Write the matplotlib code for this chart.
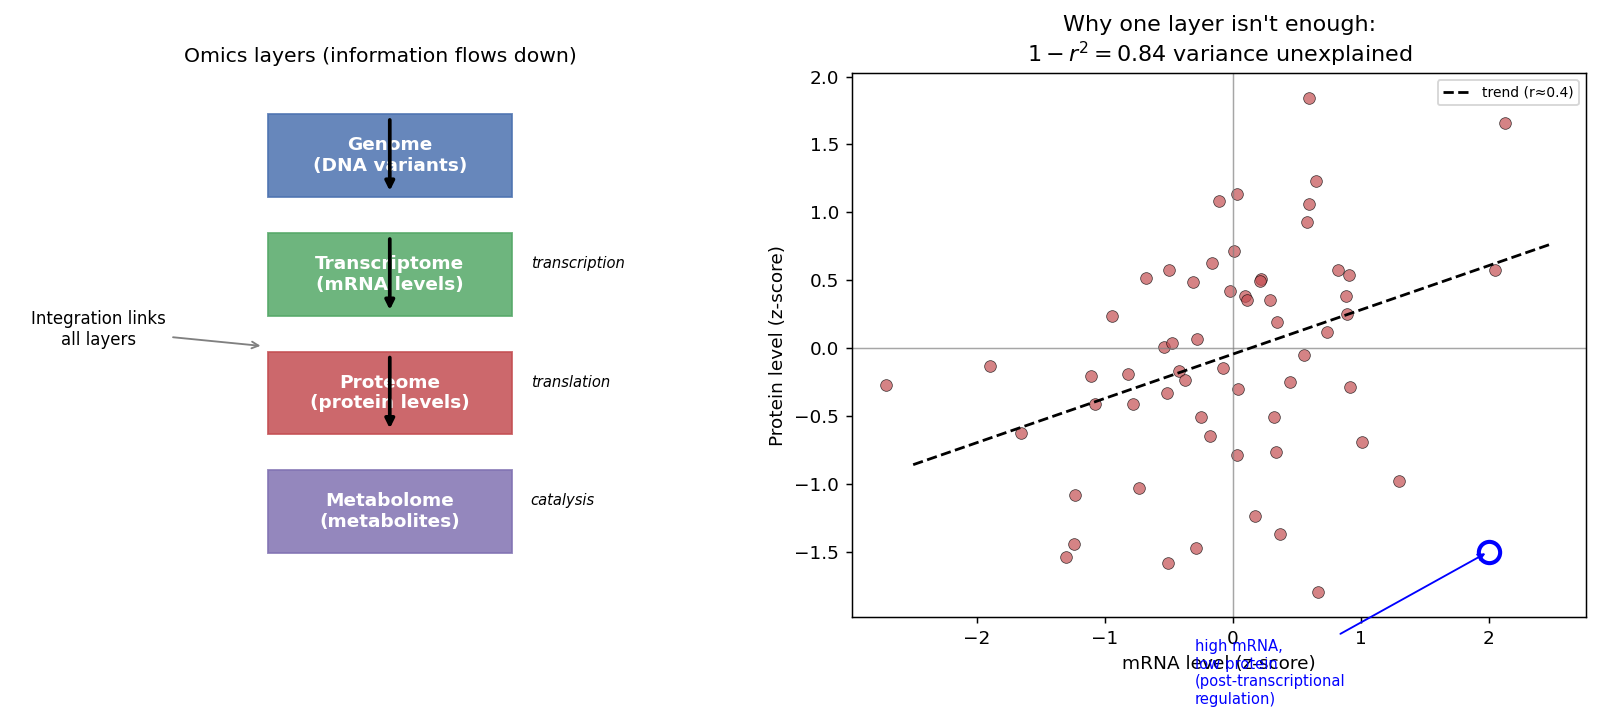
import matplotlib.pyplot as plt
from matplotlib.patches import Rectangle

# left panel: omics layers
layer_names = ["Genome\n(DNA variants)", "Transcriptome\n(mRNA levels)",
               "Proteome\n(protein levels)", "Metabolome\n(metabolites)"]
layer_colors = ["#4C72B0", "#55A868", "#C44E52", "#8172B2"]
layer_y = [8.49, 6.30, 4.12, 1.94]
step_labels = ["transcription", "translation", "catalysis"]

# right panel: mRNA vs protein z-scores
mrna = [-0.11, -0.164, -0.683, -0.503, -0.313, -0.947, 0.598, 2.126, 0.647, 0.034,
        0.598, 0.579, 0.011, 0.822, 0.908, 2.048, 0.217, 0.211, -0.021, 0.097,
        0.110, 0.292, 0.882, 0.347, 0.890, 0.733, -0.279, -0.542, -0.48, -1.896,
        -2.715, -1.111, -0.819, -0.423, -0.378, -0.08, -0.516, -1.077, -0.782, -0.25,
        -0.18, -1.656, -1.233, -0.733, -1.244, -1.307, -0.508, -0.292, 0.556, 0.446,
        0.042, 0.916, 0.318, 1.01, 0.034, 0.334, 1.299, 0.170, 0.365, 0.665]
protein = [1.08, 0.626, 0.514, 0.577, 0.487, 0.239, 1.842, 1.654, 1.227, 1.136,
           1.058, 0.930, 0.712, 0.577, 0.541, 0.577, 0.511, 0.492, 0.423, 0.386,
           0.352, 0.352, 0.381, 0.190, 0.251, 0.117, 0.068, 0.004, 0.04, -0.131,
           -0.273, -0.209, -0.192, -0.172, -0.239, -0.146, -0.332, -0.413, -0.413, -0.511,
           -0.651, -0.626, -1.085, -1.035, -1.447, -1.538, -1.587, -1.472, -0.052, -0.251,
           -0.300, -0.285, -0.506, -0.69, -0.788, -0.768, -0.979, -1.241, -1.369, -1.80]
trend_x = [-2.5, 2.5]
trend_y = [-0.86, 0.77]
outlier = (2.0, -1.5)

fig = plt.figure(figsize=(12, 5.3925), dpi=400 / 3)
ax1 = fig.add_axes([0.0, 0.1419, 0.4758, 0.7562])
ax2 = fig.add_axes([0.5327, 0.1419, 0.4586, 0.7562])

# --- layers diagram
ax1.set_xlim(0, 10)
ax1.set_ylim(0, 10)
ax1.axis("off")
box_x, box_w, box_h = 3.52, 3.2, 1.52
for i, (name, c, y) in enumerate(zip(layer_names, layer_colors, layer_y)):
    ax1.add_patch(Rectangle((box_x, y - box_h / 2), box_w, box_h,
                            facecolor=c, edgecolor=c, alpha=0.85, lw=1))
    ax1.text(box_x + box_w / 2, y, name, ha="center", va="center",
             color="white", fontsize=10, fontweight="bold")
    if i < len(layer_names) - 1:
        ax1.annotate("", xy=(box_x + box_w / 2, y - 0.72), xytext=(box_x + box_w / 2, y + 0.72),
                     arrowprops=dict(arrowstyle="-|>", color="black", lw=2, mutation_scale=10),
                     zorder=5)
    if i > 0:
        ax1.text(box_x + box_w + 0.25, y + 0.2, step_labels[i - 1], fontsize=8,
                 style="italic", va="center", ha="left")

ax1.annotate("Integration links\nall layers", xy=(3.47, 4.98), xytext=(1.29, 5.28),
             ha="center", va="center", fontsize=9,
             arrowprops=dict(arrowstyle="->", color="gray", lw=1))
ax1.set_title("Omics layers (information flows down)", fontsize=11)

# --- scatter
ax2.axhline(0, color="gray", lw=0.8, alpha=0.7)
ax2.axvline(0, color="gray", lw=0.8, alpha=0.7)
ax2.scatter(mrna, protein, s=40, color="#C44E52", alpha=0.7, edgecolor="black", linewidth=0.4)
ax2.plot(trend_x, trend_y, "k--", lw=1.5, label="trend (r\u22480.4)")
ax2.plot(*outlier, "o", ms=11.5, mfc="none", mec="blue", mew=2.2)
# text hangs below the axes, over the tick labels, as in the original
ax2.annotate("high mRNA,\nlow protein\n(post-transcriptional\nregulation)", xy=outlier,
             xytext=(-0.3, -2.62), fontsize=8, color="blue",
             arrowprops=dict(arrowstyle="->", color="blue", lw=1))

ax2.set_xlabel("mRNA level (z-score)")
ax2.set_ylabel("Protein level (z-score)")
ax2.set_title("Why one layer isn't enough:\n$1 - r^2 = 0.84$ variance unexplained")
ax2.legend(loc="upper right", fontsize=7.5)

fig.savefig("out.png", dpi=400 / 3)
